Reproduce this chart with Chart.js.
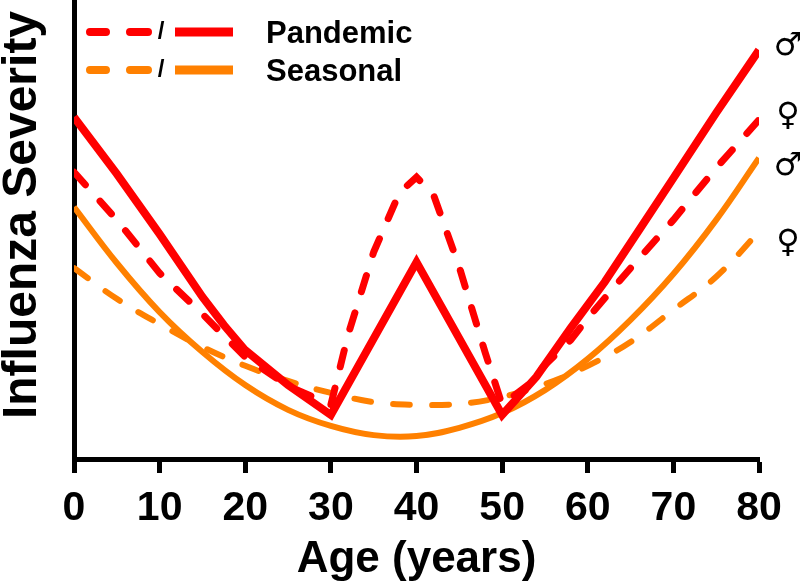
<!DOCTYPE html>
<html>
<head>
<meta charset="utf-8">
<script src="https://cdn.jsdelivr.net/npm/chart.js@4/dist/chart.umd.min.js"></script>
<style>
  html, body { margin: 0; padding: 0; background: #fff; }
  #wrap { width: 800px; height: 586px; position: relative; }
</style>
</head>
<body>
<div id="wrap"><canvas id="fluChart"></canvas></div>
<script>
// Ages (x) and severity readings (y, arbitrary units 0-100)
const pandemicMaleAge = [0, 5, 10, 15, 17.5, 20, 25, 30, 40, 50, 54, 58, 62, 66, 70, 75, 80];
const pandemicMale = [74.5, 62.1, 49.0, 35.3, 29.2, 23.7, 16.1, 9.6, 42.9, 9.6, 17.9, 28.5, 38.6, 49.9, 61.2, 75.4, 89.1];

const pandemicFemaleAge = [0, 5, 10, 15, 20, 25, 30, 32, 35, 38, 40, 42, 45, 48, 50, 53, 55, 58, 60, 65, 70, 75, 80];
const pandemicFemale = [62.5, 52.1, 40.5, 31.6, 22.2, 15.9, 11.8, 27.0, 45.1, 58.0, 61.4, 57.5, 41.8, 23.3, 11.8, 16.1, 20.5, 25.9, 30.7, 41.6, 52.1, 63.4, 73.9];

const seasonalAge = [0, 5, 10, 15, 20, 25, 30, 35, 40, 45, 50, 55, 60, 65, 70, 75, 80];
const seasonalMale = [54.9, 42.7, 32.0, 23.3, 16.1, 10.7, 7.2, 5.2, 5.0, 6.8, 10.0, 15.0, 21.8, 30.3, 40.3, 52.1, 65.6];
const seasonalFemale = [41.6, 34.9, 29.4, 24.4, 20.3, 17.0, 14.4, 12.4, 11.8, 12.0, 13.5, 16.3, 20.3, 25.5, 32.5, 39.7, 49.5];

const xTicks = [0, 10, 20, 30, 40, 50, 60, 70, 80];

const RED = '#ff0000';
const ORANGE = '#ff8000';
const FONT = '"Liberation Sans", Arial, sans-serif';

function toPoints(ages, vals) {
    return ages.map((a, i) => ({ x: a, y: vals[i] }));
}

// Legend samples and the sex symbols at the right-hand end of each line
const legendRows = [
    { label: 'Pandemic', color: RED, y: 32 },
    { label: 'Seasonal', color: ORANGE, y: 70 }
];
const sexMarks = [
    { sym: '\u2642', y: 47 },
    { sym: '\u2640', y: 117 },
    { sym: '\u2642', y: 167 },
    { sym: '\u2640', y: 244 }
];

const annotate = {
    id: 'annotate',
    afterDraw(chart) {
        const c = chart.ctx;
        c.save();
        legendRows.forEach(row => {
            // dashed sample
            c.strokeStyle = row.color;
            c.lineWidth = 8;
            c.lineCap = 'round';
            c.beginPath();
            c.moveTo(90, row.y); c.lineTo(106, row.y);
            c.moveTo(130, row.y); c.lineTo(148, row.y);
            c.stroke();
            // solid sample
            c.lineCap = 'butt';
            c.lineWidth = 9;
            c.beginPath();
            c.moveTo(175, row.y); c.lineTo(233, row.y);
            c.stroke();
            c.fillStyle = '#000';
            c.font = 'bold 24px ' + FONT;
            c.textAlign = 'center';
            c.textBaseline = 'middle';
            c.fillText('/', 161, row.y);
            c.font = 'bold 31px ' + FONT;
            c.textAlign = 'left';
            c.textBaseline = 'alphabetic';
            c.fillText(row.label, 266, row.y + 11);
        });
        // y axis title, sits a little above the middle of the axis
        c.save();
        c.translate(23, 215);
        c.rotate(-Math.PI / 2);
        c.font = 'bold 48px ' + FONT;
        c.textAlign = 'center';
        c.textBaseline = 'middle';
        c.fillText('Influenza Severity', 0, 0);
        c.restore();

        c.font = 'bold 32px "DejaVu Sans", sans-serif';
        c.textAlign = 'center';
        c.textBaseline = 'middle';
        c.fillStyle = '#000';
        sexMarks.forEach(m => c.fillText(m.sym, 788, m.y));
        c.restore();
    }
};

const ctx = document.getElementById('fluChart').getContext('2d');

let chart = new Chart(ctx, {
    type: 'line',
    data: {
        datasets: [
            {
                label: 'Pandemic (female)',
                data: toPoints(pandemicFemaleAge, pandemicFemale),
                borderColor: RED,
                borderWidth: 7,
                borderDash: [17, 22],
                borderCapStyle: 'round',
                tension: 0
            },
            {
                label: 'Pandemic (male)',
                data: toPoints(pandemicMaleAge, pandemicMale),
                borderColor: RED,
                borderWidth: 8,
                tension: 0
            },
            {
                label: 'Seasonal (female)',
                data: toPoints(seasonalAge, seasonalFemale),
                borderColor: ORANGE,
                borderWidth: 6,
                borderDash: [17, 22],
                borderCapStyle: 'round',
                tension: 0.4
            },
            {
                label: 'Seasonal (male)',
                data: toPoints(seasonalAge, seasonalMale),
                borderColor: ORANGE,
                borderWidth: 6,
                tension: 0.4
            }
        ]
    },
    options: {
        responsive: true,
        maintainAspectRatio: false,
        animation: false,
        layout: { padding: { top: 0, right: 41, left: 0, bottom: 0 } },
        elements: { point: { radius: 0 } },
        plugins: {
            legend: { display: false },
            tooltip: { enabled: false }
        },
        scales: {
            x: {
                type: 'linear',
                min: 0,
                max: 80,
                afterFit: s => { s.height = 127; },
                afterBuildTicks: s => { s.ticks = xTicks.map(v => ({ value: v })); },
                grid: {
                    display: true,
                    drawOnChartArea: false,
                    drawTicks: true,
                    tickLength: 14,
                    tickWidth: 5,
                    tickColor: '#000'
                },
                border: { display: true, width: 5, color: '#000' },
                ticks: {
                    color: '#000',
                    padding: 15,
                    maxRotation: 0,
                    font: { family: FONT, size: 41, weight: 'bold', lineHeight: 1 }
                },
                title: {
                    display: true,
                    text: 'Age (years)',
                    color: '#000',
                    padding: { top: 0, bottom: 4 },
                    font: { family: FONT, size: 44, weight: 'bold', lineHeight: 1 }
                }
            },
            y: {
                min: 0,
                max: 100,
                afterFit: s => { s.width = 74; },
                grid: { display: false },
                border: { display: true, width: 5, color: '#000' },
                ticks: { display: false },
                title: { display: false }
            }
        }
    },
    plugins: [annotate]
});
</script>
</body>
</html>
